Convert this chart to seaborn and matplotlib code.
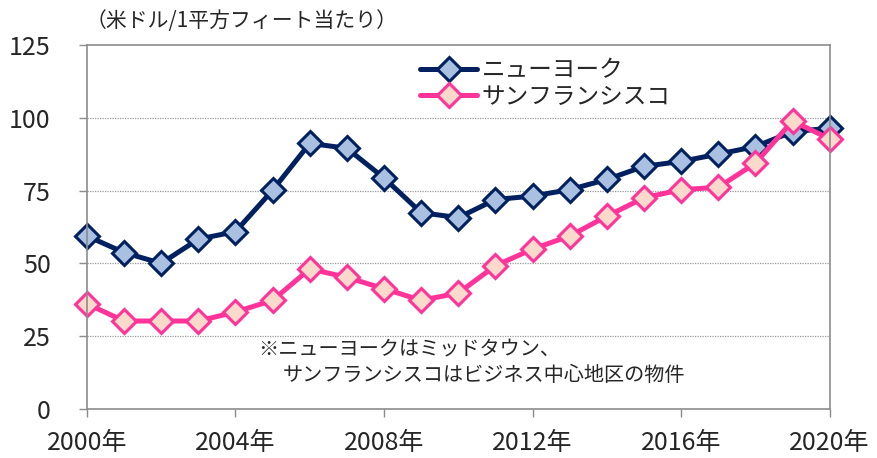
import numpy as np
import pandas as pd
import seaborn as sns
import matplotlib.pyplot as plt
from matplotlib.ticker import FixedLocator

# data
years = list(range(2000, 2021))
ny = [59.4, 53.7, 50.0, 58.3, 60.9, 75.1, 91.2, 89.5, 79.3, 67.4, 65.7,
      71.9, 73.1, 75.3, 78.8, 83.3, 85.0, 87.5, 90.1, 95.2, 96.4]
sf = [36.1, 30.2, 30.2, 30.2, 33.3, 37.3, 48.1, 45.2, 41.3, 37.3, 39.8,
      49.2, 54.9, 59.4, 66.2, 72.5, 75.3, 76.1, 84.4, 98.9, 92.7]
names = ["ニューヨーク", "サンフランシスコ"]
xticks = [2000, 2004, 2008, 2012, 2016, 2020]
xtick_labels = [f"{y}年" for y in xticks]
yticks = [0, 25, 50, 75, 100, 125]

df = pd.DataFrame({"year": years, names[0]: ny, names[1]: sf})

sns.set_theme(style="white")
plt.rcParams['font.family'] = ['Noto Sans CJK JP', 'DejaVu Sans']

fig = plt.figure(figsize=(8.78, 4.58), dpi=100)
ax = fig.add_axes([0.099, 0.107, 0.846, 0.795])

sns.lineplot(data=df, x="year", y=names[0], ax=ax, color="#002060", lw=3.6,
             marker="D", markersize=12, markerfacecolor="#A9C0E0",
             markeredgecolor="#002060", markeredgewidth=2.2, label=names[0],
             clip_on=False)
sns.lineplot(data=df, x="year", y=names[1], ax=ax, color="#FF3399", lw=3.6,
             marker="D", markersize=12, markerfacecolor="#FBDACB",
             markeredgecolor="#FF3399", markeredgewidth=2.2, label=names[1],
             clip_on=False)

ax.set_xlim(2000, 2020)
ax.set_ylim(0, 125)
ax.xaxis.set_major_locator(FixedLocator(xticks))
ax.set_xticklabels(xtick_labels, fontsize=18)
ax.set_yticks(yticks)
ax.set_yticklabels([str(v) for v in yticks], fontsize=18)
ax.set_xlabel("")
ax.set_ylabel("")

for v in yticks[1:-1]:
    ax.axhline(v, color="#999999", lw=0.9, ls=(0, (1, 1)), zorder=0)
for s in ax.spines.values():
    s.set_color("#8c8c8c")
    s.set_linewidth(1.2)
    s.set_visible(True)
ax.tick_params(axis="y", direction="out", length=6, width=1, color="#8c8c8c", pad=20)
ax.tick_params(axis="x", direction="out", length=6, width=1, color="#8c8c8c", pad=9)
ax.tick_params(left=True, bottom=True)

ax.legend(loc="upper left", bbox_to_anchor=(0.43, 1.0), frameon=False,
          fontsize=17, handlelength=2.4, handletextpad=0.2, labelspacing=0.15,
          borderaxespad=0.2)

fig.text(0.097, 0.955, "（米ドル/1平方フィート当たり）", fontsize=15, va="center")
ax.text(0.23, 0.165, "※ニューヨークはミッドタウン、", transform=ax.transAxes,
        fontsize=14.5, va="center")
ax.text(0.263, 0.092, "サンフランシスコはビジネス中心地区の物件", transform=ax.transAxes,
        fontsize=14.5, va="center")

fig.savefig("out.png", dpi=100)
